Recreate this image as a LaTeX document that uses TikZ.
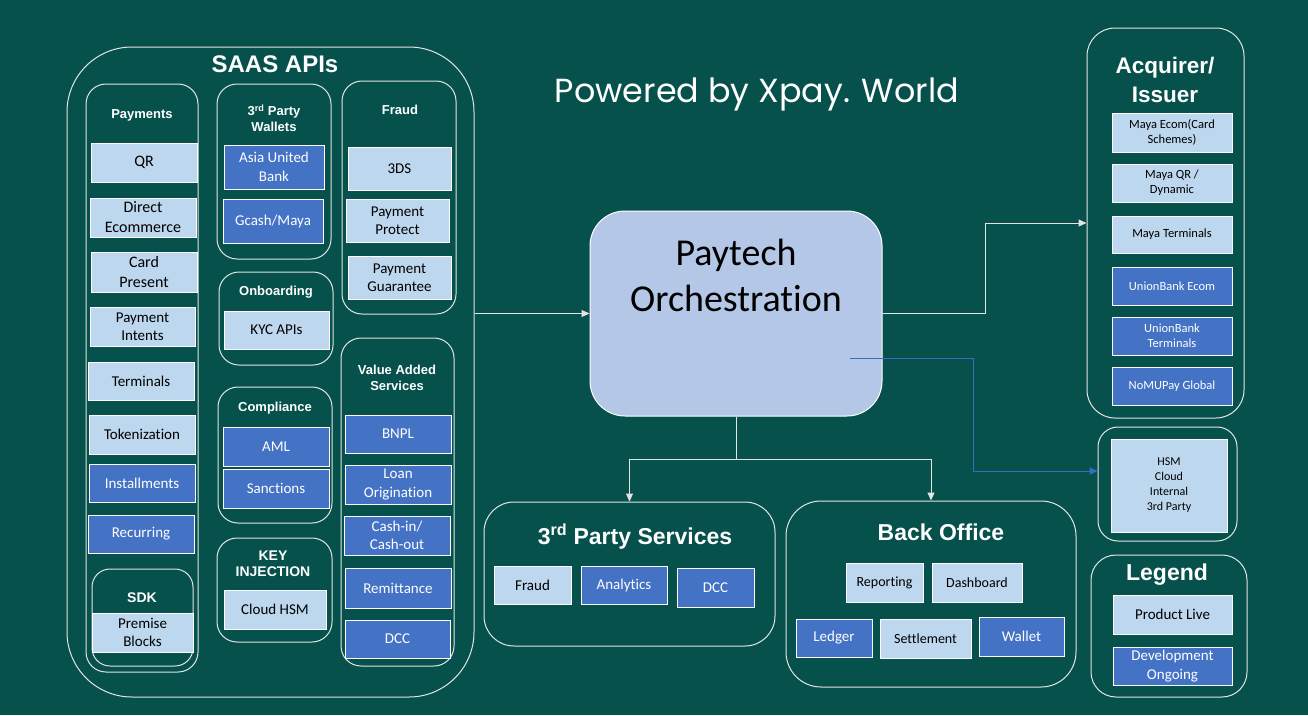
\documentclass[tikz,border=0pt]{standalone}
\usepackage{fontspec}
\setmainfont{Carlito}[Ligatures=NoCommon]
\newfontfamily\hdfont{Liberation Sans}
\newfontfamily\pwfont{Poppins}
\usetikzlibrary{arrows.meta,calc}
\definecolor{bg}{HTML}{06514C}
\definecolor{lightb}{HTML}{BDD7EE}
\definecolor{darkb}{HTML}{4472C4}
\definecolor{orchf}{HTML}{B4C7E7}
\definecolor{edge}{HTML}{E4E4E4}
\definecolor{bluel}{HTML}{3A6BC4}
\newcommand\bx[7]{\node[#2, minimum width={(#5-#3)*1pt}, minimum height={(#6-#4)*1pt}] (#1) at ({(#3+#5)/2},{(#4+#6)/2}) {#7};}
\tikzset{
  base/.style={draw=white, line width=1pt, inner sep=0pt, align=center, font=\fontsize{15}{18.5}\selectfont},
  lt/.style={base, fill=lightb, text=black},
  dk/.style={base, fill=darkb, text=white},
  cont/.style={draw=edge, line width=1pt, rounded corners=#1},
  cont/.default=20pt,
  hd/.style={text=white, align=center, inner sep=0pt, font=\hdfont\bfseries\fontsize{#1}{\dimexpr #1pt*6/5\relax}\selectfont},
  hd/.default=13,
  conn/.style={draw=edge, line width=1pt, -{Triangle[length=8pt,width=7pt]}},
}
\begin{document}
\begin{tikzpicture}[x=1pt,y=-1pt]
\fill[bg] (0,0) rectangle (1308,715);
\useasboundingbox (0,0) rectangle (1308,715);

% title
\node[text=white, inner sep=0pt, anchor=base] (pw) at (757,102) {\resizebox{404pt}{!}{\pwfont Powered by Xpay. World}};

% SAAS
\bx{saas}{cont=65pt}{67}{47}{474}{697}{}
\node[hd=24] (saasT) at (275,64) {SAAS APIs};

% Payments
\bx{pay}{cont=20pt}{86}{84}{198}{672}{}
\node[hd] (payT) at (142,115) {Payments};
\bx{qr}{lt, font=\fontsize{16}{20}\selectfont}{91}{143}{197}{182}{QR}
\bx{dec}{lt, font=\fontsize{16}{20}\selectfont}{90}{198}{196}{237}{Direct\\Ecommerce}
\bx{cp}{lt, font=\fontsize{16}{20}\selectfont}{91}{252}{197}{292}{Card\\Present}
\bx{pi}{lt}{90}{307}{195}{346}{Payment\\Intents}
\bx{term}{lt}{88}{362}{194}{400}{Terminals}
\bx{tok}{lt}{89}{415}{195}{454}{Tokenization}
\bx{inst}{dk}{89}{464}{195}{502}{Installments}
\bx{rec}{dk}{88}{515}{194}{553}{Recurring}
\bx{sdk}{cont=18pt}{92}{569}{193}{666}{}
\node[hd=14] (sdkT) at (142,598) {SDK};
\bx{prem}{lt}{92}{613}{193}{652}{Premise\\Blocks}

% Wallets
\bx{wal}{cont=20pt}{217}{84}{331}{259}{}
\node[hd, font=\hdfont\bfseries\fontsize{13}{16}\selectfont] (walT) at (274,118) {3\textsuperscript{rd} Party\\Wallets};
\bx{aub}{dk}{224}{145}{324}{189}{Asia United\\Bank}
\bx{gcash}{dk}{223}{199}{323}{243}{Gcash/Maya}

% Onboarding
\bx{onb}{cont=20pt}{219}{272}{333}{365}{}
\node[hd] (onbT) at (276,292) {Onboarding};
\bx{kyc}{lt}{224}{311}{329}{349}{KYC APIs}

% Compliance
\bx{comp}{cont=20pt}{218}{387}{332}{523}{}
\node[hd] (compT) at (275,408) {Compliance};
\bx{aml}{dk}{223}{427}{329}{466}{AML}
\bx{sanc}{dk}{223}{469}{329}{508}{Sanctions}

% Key injection
\bx{key}{cont=20pt}{217}{538}{332}{642}{}
\node[hd, font=\hdfont\bfseries\fontsize{14}{16}\selectfont] (keyT) at (273,564) {KEY\\INJECTION};
\bx{chsm}{lt}{224}{590}{326}{629}{Cloud HSM}

% Fraud
\bx{fraud}{cont=20pt}{342}{81}{456}{314}{}
\node[hd] (fraudT) at (400,110) {Fraud};
\bx{tds}{lt}{348}{147}{451}{190}{3DS}
\bx{pp}{lt}{346}{199}{449}{242}{Payment\\Protect}
\bx{pg}{lt}{348}{256}{451}{299}{Payment\\Guarantee}

% Value added
\bx{vas}{cont=20pt}{341}{338}{454}{666}{}
\node[hd, font=\hdfont\bfseries\fontsize{13}{16}\selectfont] (vasT) at (397,378) {Value Added\\Services};
\bx{bnpl}{dk}{345}{415}{451}{453}{BNPL}
\bx{loan}{dk}{345}{465}{451}{504}{Loan\\Origination}
\bx{cash}{dk}{344}{516}{450}{555}{Cash-in/\\Cash-out}
\bx{remit}{dk}{345}{568}{451}{608}{Remittance}
\bx{vdcc}{dk}{345}{620}{450}{658}{DCC}

% Orchestration
\bx{orch}{draw=white, line width=1pt, fill=orchf, rounded corners=35pt}{590}{211}{882}{416}{}
\node[inner sep=0pt, align=center, text=black, font=\fontsize{38}{46}\selectfont] (orchT) at (736,275) {Paytech\\Orchestration};

% Acquirer
\bx{acq}{cont=28pt}{1087}{28}{1244}{418}{}
\node[hd, font=\hdfont\bfseries\fontsize{22.5}{29}\selectfont] (acqT) at (1165,80) {Acquirer/\\Issuer};
\tikzset{sm/.style={font=\fontsize{12.5}{15}\selectfont}}
\bx{mec}{lt,sm}{1112}{113}{1232}{152}{Maya Ecom(Card\\Schemes)}
\bx{mqr}{lt,sm}{1112}{164}{1232}{202}{Maya QR /\\Dynamic}
\bx{mterm}{lt,sm}{1112}{216}{1232}{253}{Maya Terminals}
\bx{ube}{dk,sm}{1112}{267}{1232}{305}{UnionBank Ecom}
\bx{ubt}{dk,sm}{1112}{317}{1232}{355}{UnionBank\\Terminals}
\bx{nomu}{dk,sm}{1112}{367}{1232}{405}{NoMUPay Global}

% HSM
\bx{hsm}{cont=20pt}{1098}{427}{1237}{541}{}
\bx{hsmb}{lt, font=\fontsize{12}{15}\selectfont}{1111}{439}{1227}{532}{HSM\\Cloud\\Internal\\3rd Party}

% Legend
\bx{leg}{cont=25pt}{1091}{555}{1247}{697}{}
\node[hd=23] (legT) at (1167,575) {Legend};
\bx{live}{lt}{1113}{595}{1232}{634}{Product Live}
\bx{dev}{dk}{1113}{647}{1232}{685}{Development\\Ongoing}

% 3rd party services
\bx{tps}{cont=30pt}{484}{502}{775}{646}{}
\node[hd=23] (tpsT) at (635,537) {3\textsuperscript{rd} Party Services};
\bx{tfraud}{lt}{494}{566}{571}{604}{Fraud}
\bx{anal}{dk}{581}{566}{667}{604}{Analytics}
\bx{tdcc}{dk}{677}{568}{754}{607}{DCC}

% Back office
\bx{bo}{cont=35pt}{786}{501}{1076}{687}{}
\node[hd=23] (boT) at (941,532) {Back Office};
\bx{rep}{lt, font=\fontsize{14}{17}\selectfont}{846}{563}{923}{602}{Reporting}
\bx{dash}{lt, font=\fontsize{14}{17}\selectfont}{932}{563}{1022}{602}{Dashboard}
\bx{ledg}{dk}{796}{619}{872}{657}{Ledger}
\bx{sett}{lt, font=\fontsize{14}{17}\selectfont}{880}{619}{971}{658}{Settlement}
\bx{wallet}{dk}{979}{617}{1064}{656}{Wallet}

% connectors
\draw[conn] (saas.east |- orch.west) -- (orch.west);
\draw[conn] (orch.east) -- ++(103,0) |- (acq.west);
\draw[draw=edge, line width=1pt] (orch.south) -- ++(0,43) coordinate (jn);
\draw[conn] (jn) -| (tps.north);
\draw[conn] (jn) -| (bo.north);
\coordinate (bs) at (850,358);
\draw[draw=bluel, line width=1pt, -{Triangle[length=8pt,width=7pt]}] (bs) -- (973,358) |- ([yshift=13pt]hsm.west);
\end{tikzpicture}
\end{document}
